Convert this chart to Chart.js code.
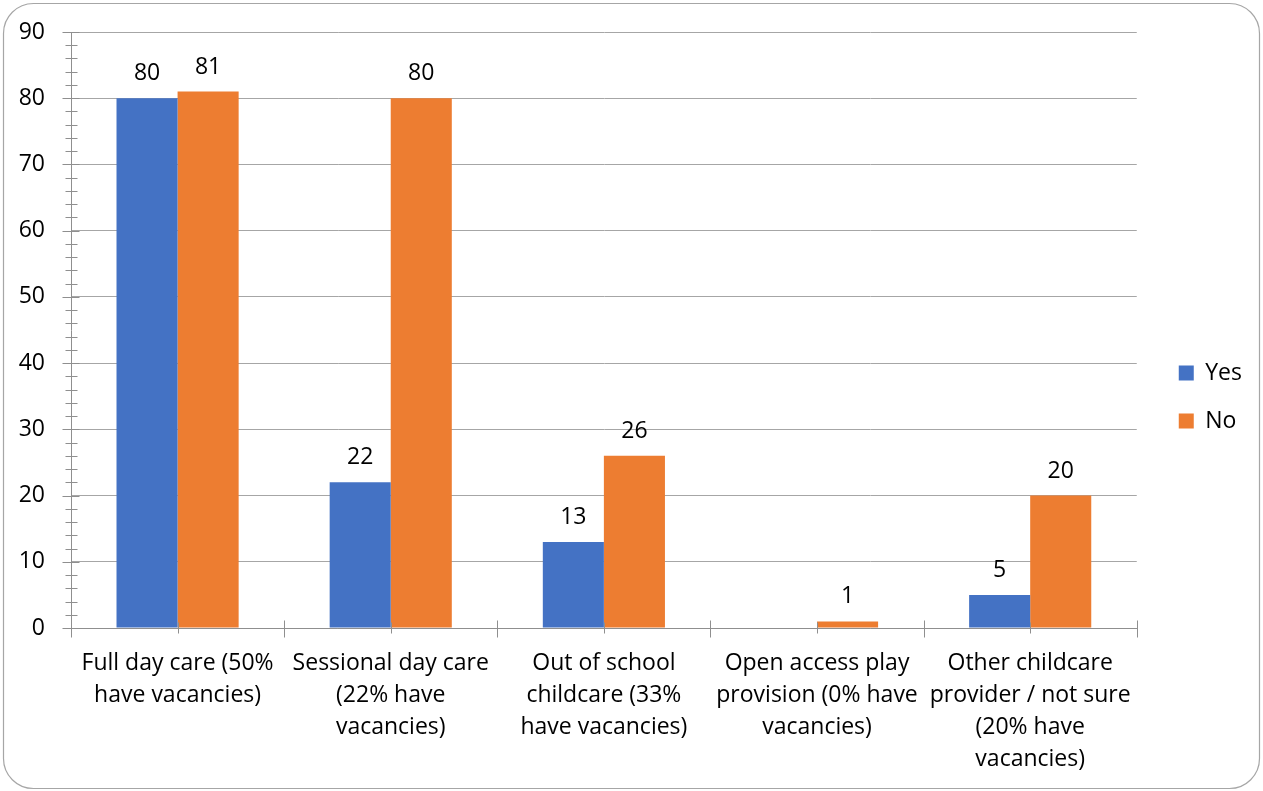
<!DOCTYPE html>
<html>
<head>
<meta charset="utf-8">
<script src="https://cdn.jsdelivr.net/npm/chart.js@4.4.1/dist/chart.umd.min.js"></script>
<style>
  html, body { margin: 0; padding: 0; background: #ffffff; }
  #wrap { width: 1263px; height: 791px; position: relative; }
  canvas { display: block; }
</style>
</head>
<body>
<div id="wrap"><canvas id="chart" width="1263" height="791"></canvas></div>
<script>
// Provider types (multi-line category labels)
const categories = [
  ["Full day care (50%", "have vacancies)"],
  ["Sessional day care", "(22% have", "vacancies)"],
  ["Out of school", "childcare (33%", "have vacancies)"],
  ["Open access play", "provision (0% have", "vacancies)"],
  ["Other childcare", "provider / not sure", "(20% have", "vacancies)"]
];

// Responses per provider type
const seriesNames = ["Yes", "No"];
const yesValues = [80, 22, 13, 0, 5];
const noValues = [81, 80, 26, 1, 20];

// Value axis
const yMin = 0;
const yMax = 90;
const yMajorStep = 10;
const yMinorStep = 2;

const FONT = "'Open Sans', 'Liberation Sans', sans-serif";
const GRID = '#a6a6a6';
const AXIS = '#8f8f8f';

// Rounded frame around the whole chart
const framePlugin = {
  id: 'frame',
  beforeDraw(chart) {
    const ctx = chart.ctx;
    ctx.save();
    ctx.fillStyle = '#ffffff';
    ctx.fillRect(0, 0, chart.width, chart.height);
    ctx.beginPath();
    ctx.roundRect(3.5, 3.5, chart.width - 7, chart.height - 6, 30);
    ctx.strokeStyle = '#a6a6a6';
    ctx.lineWidth = 1.2;
    ctx.stroke();
    ctx.restore();
  }
};

// Major / minor tick marks that cross both axes
const axisTicksPlugin = {
  id: 'axisTicks',
  afterDatasetsDraw(chart) {
    const ctx = chart.ctx;
    const y = chart.scales.y;
    const x = chart.scales.x;
    const ax = Math.round(chart.chartArea.left) + 0.5;
    const ay = Math.round(chart.chartArea.bottom) + 0.5;
    ctx.save();
    ctx.strokeStyle = AXIS;
    ctx.lineWidth = 1;
    ctx.beginPath();
    for (let v = yMin; v <= yMax; v += yMinorStep) {
      const py = Math.round(y.getPixelForValue(v)) + 0.5;
      const major = v % yMajorStep === 0;
      ctx.moveTo(ax - (major ? 9 : 6), py);
      ctx.lineTo(ax + (major ? 8 : 6), py);
    }
    for (let i = 0; i <= categories.length; i++) {
      const px = Math.round(x.getPixelForValue(i - 0.5)) + 0.5;
      ctx.moveTo(px, ay - 8);
      ctx.lineTo(px, ay + 9);
    }
    for (let i = 0; i < categories.length; i++) {
      const px = Math.round(x.getPixelForValue(i)) + 0.5;
      ctx.moveTo(px, ay - 6);
      ctx.lineTo(px, ay + 5);
    }
    ctx.stroke();
    ctx.restore();
  }
};

// Value labels above each non-zero bar
const valueLabelsPlugin = {
  id: 'valueLabels',
  afterDatasetsDraw(chart) {
    const ctx = chart.ctx;
    ctx.save();
    ctx.font = `23px ${FONT}`;
    ctx.fillStyle = '#000000';
    ctx.textAlign = 'center';
    ctx.textBaseline = 'alphabetic';
    chart.data.datasets.forEach((ds, di) => {
      const meta = chart.getDatasetMeta(di);
      meta.data.forEach((bar, i) => {
        const v = ds.data[i];
        if (!v) return;
        ctx.fillText(String(v), bar.x, bar.y - 18);
      });
    });
    ctx.restore();
  }
};

new Chart(document.getElementById('chart'), {
  type: 'bar',
  data: {
    labels: categories,
    datasets: [
      { label: seriesNames[0], data: yesValues, backgroundColor: '#4472C4', borderWidth: 0 },
      { label: seriesNames[1], data: noValues, backgroundColor: '#ED7D31', borderWidth: 0 }
    ]
  },
  options: {
    responsive: false,
    animation: false,
    devicePixelRatio: 1,
    layout: { padding: { top: 3, right: 11, bottom: 0, left: 0 } },
    datasets: { bar: { categoryPercentage: 0.573, barPercentage: 1.0 } },
    plugins: {
      legend: {
        position: 'right',
        labels: {
          boxWidth: 15,
          boxHeight: 15,
          padding: 25,
          color: '#000000',
          font: { family: FONT, size: 23 }
        }
      },
      tooltip: { enabled: false }
    },
    scales: {
      x: {
        offset: true,
        grid: { display: false, drawTicks: false },
        border: { display: true, color: AXIS, width: 1 },
        ticks: {
          color: '#000000',
          font: { family: FONT, size: 23, lineHeight: 32 / 23 },
          padding: 19,
          maxRotation: 0,
          minRotation: 0,
          autoSkip: false
        },
        afterFit(scale) { scale.height = 163; }
      },
      y: {
        min: yMin,
        max: yMax,
        grid: { color: GRID, drawTicks: false },
        border: { display: true, color: AXIS, width: 1 },
        ticks: {
          stepSize: yMajorStep,
          color: '#000000',
          font: { family: FONT, size: 23 },
          padding: 26
        },
        afterFit(scale) { scale.width = 71; scale.paddingTop = 32; }
      },
      gap: {
        type: 'linear',
        position: 'right',
        display: true,
        grid: { display: false, drawTicks: false },
        border: { display: false },
        ticks: { display: false },
        afterFit(scale) { scale.width = 17; }
      }
    }
  },
  plugins: [framePlugin, axisTicksPlugin, valueLabelsPlugin]
});
</script>
</body>
</html>
